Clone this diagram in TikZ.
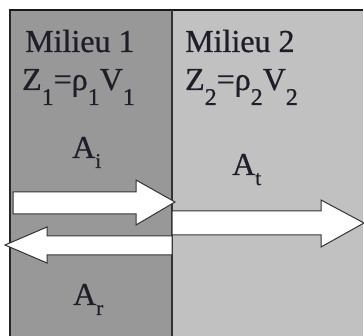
\documentclass[tikz,border=0pt]{standalone}
\usepackage{fontspec}
\setmainfont{Liberation Serif}[BoldFont={Liberation Serif},BoldFeatures={FakeBold=0.7}]
\definecolor{darkpanel}{RGB}{152,152,152}
\definecolor{lightpanel}{RGB}{193,193,193}
\definecolor{inkc}{RGB}{30,30,40}
\newcommand{\zsub}[1]{\raisebox{-15pt}{\fontsize{24}{24}\selectfont #1}}
\newcommand{\asub}[1]{\raisebox{-10pt}{\fontsize{21}{21}\selectfont #1}}
\begin{document}
\begin{tikzpicture}[x=1pt,y=-1pt,
  lbl/.style={inner sep=0pt, anchor=base west, text=inkc, font=\fontsize{32}{32}\selectfont\bfseries},
  bigarrow/.style={fill=white, draw=black!80, line width=1pt, line join=miter}]
\useasboundingbox (0,0) rectangle (364,336);
\fill[white] (0,0) rectangle (364,336);
% panels
\fill[darkpanel] (10,10) rectangle (172,336);
\fill[lightpanel] (172,10) rectangle (363,336);
\draw[line width=1.5pt, black!85] (10,336) -- (10,10);
\draw[line width=2.5pt, black!90] (8.75,10) -- (363,10);
\draw[line width=1.2pt, black!80] (172,10) -- (172,336);
% arrows
\draw[bigarrow] (172,211) -- (321,211) -- (321,200) -- (364,223) -- (321,247) -- (321,235) -- (172,235) -- cycle;
\draw[bigarrow] (172,236) -- (47,236) -- (47,227) -- (5,245) -- (47,263) -- (47,255) -- (172,255) -- cycle;
\draw[bigarrow] (13,192) -- (136,192) -- (136,180) -- (175,202) -- (136,225) -- (136,214) -- (13,214) -- cycle;
% texts
\node[lbl] (m1) at (25,52) {Milieu 1};
\node[lbl] (z1) at (22,90) {Z\zsub{1}=ρ\zsub{1}V\zsub{1}};
\node[lbl] (m2) at (185,52) {Milieu 2};
\node[lbl] (z2) at (185,90) {Z\zsub{2}=ρ\zsub{2}V\zsub{2}};
\node[lbl] (ai) at (72,158) {A\asub{i}};
\node[lbl] (at) at (232,175) {A\asub{t}};
\node[lbl] (ar) at (73,305) {A\asub{r}};
\end{tikzpicture}
\end{document}
